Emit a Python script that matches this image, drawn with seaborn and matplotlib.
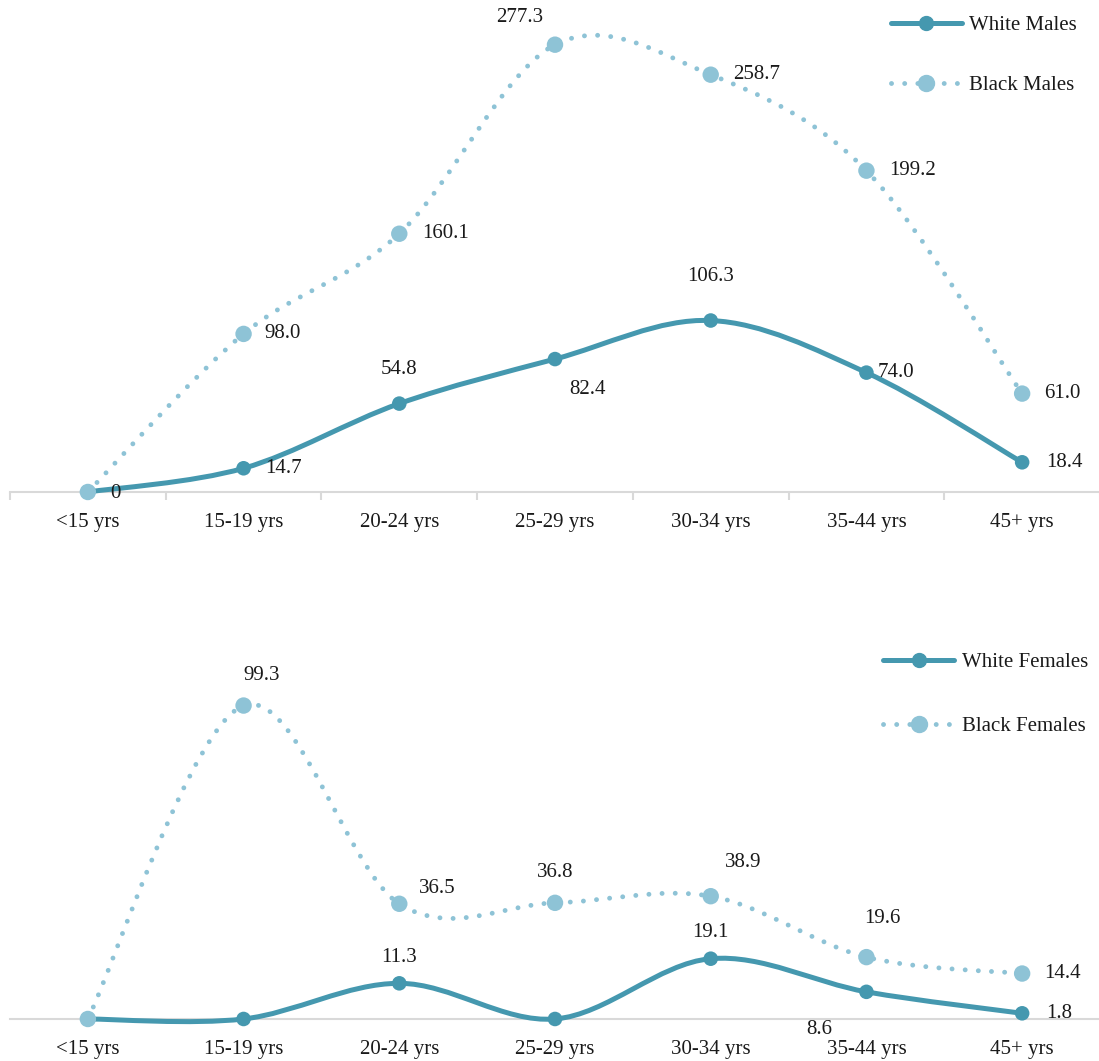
import numpy as np
import pandas as pd
import matplotlib.pyplot as plt
import seaborn as sns
from matplotlib.path import Path
from matplotlib.patches import PathPatch
from matplotlib.lines import Line2D

# Data
ages = ["<15 yrs", "15-19 yrs", "20-24 yrs", "25-29 yrs", "30-34 yrs", "35-44 yrs", "45+ yrs"]
white_males = [0, 14.7, 54.8, 82.4, 106.3, 74.0, 18.4]
black_males = [0, 98.0, 160.1, 277.3, 258.7, 199.2, 61.0]
white_females = [0, 0, 11.3, 0, 19.1, 8.6, 1.8]
black_females = [0, 99.3, 36.5, 36.8, 38.9, 19.6, 14.4]

WHITE_C = "#4598AF"
BLACK_C = "#8EC3D6"
AXIS_C = "#d9d9d9"
TEXT_C = "#1a1a1a"
FS = 15

sns.set_theme(style="white")
plt.rcParams["font.family"] = ["Liberation Serif", "DejaVu Serif"]
plt.rcParams["text.color"] = TEXT_C

DOTS = (0, (0.01, 2.7))


def smooth_path(values):
    # Excel-style smoothed line: cubic Bezier segments (Catmull-Rom control points)
    pts = np.column_stack([np.arange(len(values)), np.asarray(values, float)])
    ext = np.vstack([pts[0], pts, pts[-1]])
    verts = [pts[0]]
    codes = [Path.MOVETO]
    for i in range(len(pts) - 1):
        p0, p1, p2, p3 = ext[i], ext[i + 1], ext[i + 2], ext[i + 3]
        verts += [p1 + (p2 - p0) / 6, p2 - (p3 - p1) / 6, p2]
        codes += [Path.CURVE4] * 3
    return Path(verts, codes)


def draw_series(ax, values, color, dotted, size, z):
    if dotted:
        patch = PathPatch(smooth_path(values), fill=False, edgecolor=color, lw=3.5,
                          linestyle=DOTS, capstyle="round", zorder=z, clip_on=False)
    else:
        patch = PathPatch(smooth_path(values), fill=False, edgecolor=color, lw=3.6,
                          capstyle="round", zorder=z, clip_on=False)
    ax.add_patch(patch)
    df = pd.DataFrame({"age": ages, "val": values})
    sns.scatterplot(data=df, x="age", y="val", ax=ax, color=color, s=size,
                    edgecolor="none", linewidth=0, zorder=z + 1)
    ax.collections[-1].set_clip_on(False)


def label(ax, values, offsets):
    for i, off in offsets.items():
        dx, dy, ha = off
        v = values[i]
        txt = "0" if v == 0 else f"{v:.1f}"
        ax.annotate(txt, (i, v), xytext=(dx, dy), textcoords="offset pixels",
                    ha=ha, va="center", fontsize=FS, color=TEXT_C, zorder=10)


def style_axis(ax, ymax, boundary_ticks):
    ax.set_xlim(-0.5, 6.5)
    ax.set_ylim(0, ymax)
    for s in ["top", "right", "left"]:
        ax.spines[s].set_visible(False)
    ax.spines["bottom"].set_color(AXIS_C)
    ax.spines["bottom"].set_linewidth(1.5)
    ax.spines["bottom"].set_zorder(0.5)
    ax.set_yticks([])
    ax.set_xticks(range(len(ages)))
    ax.set_xticklabels(ages, fontsize=FS, color=TEXT_C)
    ax.tick_params(axis="x", which="major", length=0, pad=15)
    if boundary_ticks:
        ax.set_xticks(np.arange(-0.5, 7, 1), minor=True)
        ax.tick_params(axis="x", which="minor", length=6, width=1.5, color=AXIS_C,
                       direction="out", bottom=True)
    ax.set_xlabel("")
    ax.set_ylabel("")
    ax.grid(False)


fig = plt.figure(figsize=(10.99, 10.61), dpi=100)
ax1 = fig.add_axes([10 / 1099, 0.5363, 1090 / 1099, 0.4637])
ax2 = fig.add_axes([10 / 1099, 0.0396, 1090 / 1099, 0.357])

# Top panel: males
draw_series(ax1, white_males, WHITE_C, False, 110, 2)
draw_series(ax1, black_males, BLACK_C, True, 140, 4)
style_axis(ax1, 305, True)
label(ax1, white_males, {0: (22, -2, "left"), 1: (22, 0, "left"), 2: (0, 34, "center"),
                         3: (32, -30, "center"), 4: (0, 44, "center"),
                         5: (11, 0, "left"), 6: (24, 0, "left")})
label(ax1, black_males, {1: (21, 0, "left"), 2: (23, 0, "left"), 3: (-35, 27, "center"),
                         4: (22, 0, "left"), 5: (23, 0, "left"), 6: (22, 0, "left")})

# Bottom panel: females
draw_series(ax2, white_females, WHITE_C, False, 110, 2)
draw_series(ax2, black_females, BLACK_C, True, 140, 4)
style_axis(ax2, 120, False)
label(ax2, white_females, {2: (0, 26, "center"), 4: (0, 26, "center"),
                           5: (-47, -38, "center"), 6: (24, 0, "left")})
label(ax2, black_females, {1: (18, 30, "center"), 2: (20, 15, "left"), 3: (0, 30, "center"),
                           4: (32, 34, "center"), 5: (16, 39, "center"), 6: (22, 0, "left")})


def add_legend(ax, names, anchor, spacing):
    handles = [
        Line2D([], [], color=WHITE_C, lw=3.6, marker="o", markersize=10,
               solid_capstyle="round", label=names[0]),
        Line2D([], [], color=BLACK_C, lw=3.5, linestyle=DOTS,
               dash_capstyle="round", marker="o", markersize=11.5, label=names[1]),
    ]
    ax.legend(handles=handles, loc="upper right", bbox_to_anchor=anchor,
              bbox_transform=fig.transFigure, frameon=False, fontsize=FS,
              handlelength=3.4, handletextpad=0.35, labelspacing=spacing, numpoints=1,
              borderaxespad=0, borderpad=0.3)


add_legend(ax1, ["White Males", "Black Males"], (0.9855, 0.9915), 1.95)
add_legend(ax2, ["White Females", "Black Females"], (0.9955, 0.391), 2.15)

fig.savefig("out.png", dpi=100)
